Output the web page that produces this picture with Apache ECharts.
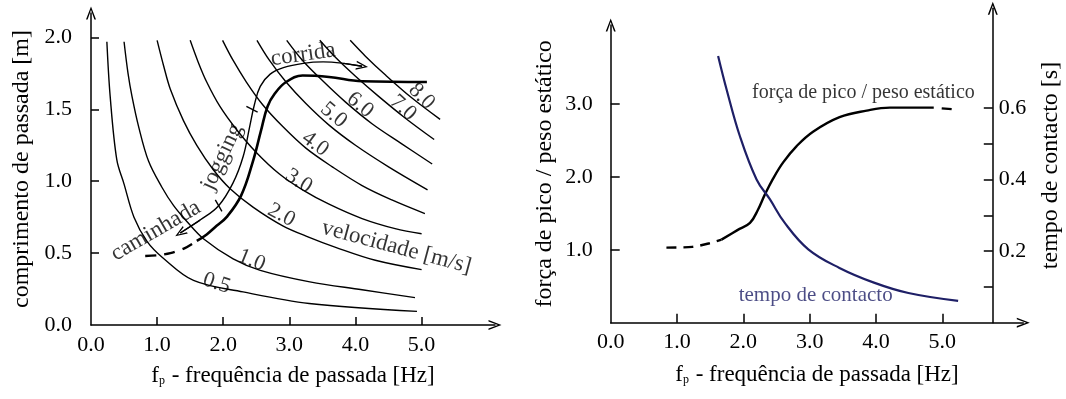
<!DOCTYPE html>
<html>
<head>
<meta charset="utf-8">
<script src="https://cdn.jsdelivr.net/npm/echarts@6/dist/echarts.min.js"></script>
<style>
html,body{margin:0;padding:0;background:#fff;}
#chart{width:1066px;height:399px;}
</style>
</head>
<body>
<div id="chart"></div>
<script>
// ---------------- DATA ----------------
// Left chart: stride length [m] vs step frequency [Hz], constant-velocity curves
const velocityLabels = ['0.5','1.0','2.0','3.0','4.0','5.0','6.0','7.0','8.0'];
const v05 = [[0.24,1.97],[0.29,1.59],[0.39,1.15],[0.5,0.98],[0.65,0.75],[0.85,0.58],[1.08,0.47],[1.55,0.31],[2.3,0.23],[3.3,0.15],[4.93,0.095]];
const v10 = [[0.5,1.97],[0.56,1.75],[0.62,1.59],[0.72,1.38],[0.87,1.14],[1.07,0.96],[1.25,0.83],[1.45,0.72],[1.7,0.6],[2.15,0.46],[2.56,0.38],[3.31,0.3],[4.1,0.245],[4.9,0.19]];
const v20 = [[1.0,1.98],[1.1,1.8],[1.2,1.64],[1.4,1.42],[1.6,1.25],[1.85,1.08],[2.1,0.95],[2.45,0.82],[2.9,0.69],[3.3,0.61],[3.7,0.54],[4.3,0.45],[5.0,0.385]];
const v30 = [[1.5,1.98],[1.62,1.83],[1.75,1.69],[1.95,1.52],[2.2,1.36],[2.5,1.2],[2.85,1.05],[3.2,0.94],[3.6,0.84],[4.1,0.74],[4.6,0.67],[5.0,0.635]];
const v40 = [[1.99,1.98],[2.15,1.84],[2.35,1.69],[2.6,1.53],[2.9,1.38],[3.25,1.23],[3.65,1.1],[4.1,0.97],[4.55,0.87],[5.05,0.775]];
const v50 = [[2.51,1.98],[2.7,1.84],[2.95,1.69],[3.25,1.54],[3.6,1.39],[4.0,1.25],[4.5,1.1],[5.09,0.94]];
const v60 = [[2.96,1.98],[3.2,1.84],[3.5,1.7],[3.85,1.55],[4.25,1.4],[4.7,1.26],[5.16,1.12]];
const v70 = [[3.46,1.98],[3.7,1.86],[4.0,1.73],[4.35,1.59],[4.75,1.44],[5.19,1.29]];
const v80 = [[3.92,1.98],[4.15,1.87],[4.45,1.74],[4.85,1.58],[5.28,1.43]];
const velocityCurves = [v05, v10, v20, v30, v40, v50, v60, v70, v80];
// label anchor [f, L, angle] for each velocity curve
const velocityLabelAnchors = [[1.90,0.29,-18],[2.43,0.45,-22],[2.88,0.765,-28],[3.14,1.0,-32],[3.39,1.26,-36],[3.67,1.46,-40],[4.07,1.53,-40],[4.72,1.51,-42],[5.0,1.59,-45]];

// measured stride length (thick line)
const strideDashed = [[0.82,0.48],[1.0,0.485],[1.2,0.5],[1.42,0.535],[1.6,0.585]];
const strideSolid = [[1.6,0.585],[1.75,0.63],[1.9,0.69],[2.05,0.75],[2.27,0.9],[2.45,1.14],[2.57,1.35],[2.67,1.52],[2.78,1.61],[2.95,1.69],[3.2,1.735],[3.6,1.725],[4.1,1.695],[5.08,1.69]];
// thin arrow path (caminhada - jogging - corrida) and its boundary marks
const gaitPath = [[1.35,0.64],[1.65,0.73],[1.93,0.83],[2.15,0.99],[2.3,1.17],[2.4,1.38],[2.47,1.53],[2.56,1.66],[2.71,1.745],[2.91,1.79],[3.21,1.82],[3.51,1.83],[3.82,1.82],[4.1,1.8]];
const gaitMarks = [[[1.88,0.87],[1.98,0.79]],[[2.35,1.52],[2.52,1.48]]];
const leftTexts = [['corrida',3.21,1.88,8],['jogging',1.98,1.17,65],['caminhada',0.98,0.655,30],['velocidade [m/s]',4.62,0.54,-15]];

// Right chart
const forceDashed = [[0.84,1.03],[1.23,1.04],[1.49,1.09],[1.67,1.14]];
const forceSolid = [[1.67,1.14],[1.91,1.27],[2.1,1.37],[2.22,1.55],[2.32,1.75],[2.45,1.98],[2.6,2.2],[2.8,2.42],[3.05,2.62],[3.45,2.82],[3.86,2.91],[4.21,2.95],[4.87,2.95]];
const forceEnd = [[4.99,2.94],[5.14,2.93]];
const contactTime = [[1.62,0.745],[1.75,0.65],[1.95,0.52],[2.2,0.4],[2.4,0.345],[2.62,0.28],[2.98,0.205],[3.45,0.153],[3.97,0.112],[4.49,0.083],[5.24,0.061]];
const rightTexts = [['força de pico / peso estático',3.81,3.15],['tempo de contacto',3.09,0.38]];

// Ticks / labels
const leftXTicks = [1,2,3,4,5];
const leftXLabels = [0,1,2,3,4,5];
const leftYTicks = [0.5,1.0,1.5,2.0];
const leftYLabels = [0,0.5,1.0,1.5,2.0];
const rightXTicks = [1,2,3,4,5];
const rightXLabels = [0,1,2,3,4,5];
const forceTicks = [1,2,3];
const forceLabels = [1,2,3];
const timeTicks = [0.1,0.2,0.3,0.4,0.5,0.6];
const timeLabels = [0.2,0.4,0.6];

// ---------------- CHART ----------------
const FONT = '"Liberation Serif","Times New Roman",serif';
const NAVY = '#1e1f66';
const ARROW = 'path://M0,13 L5,0 L10,13 L8.4,13 L5,3.6 L1.6,13 Z';
const txt = (size) => ({fontFamily: FONT, fontSize: size, color: '#000'});
const fmt = v => Number(v).toFixed(1);

function axisLineCfg(arrow) {
  return {show: true, onZero: false, lineStyle: {color: '#000', width: 1.5},
          symbol: arrow ? ['none', ARROW] : ['none','none'], symbolSize: [10, 13]};
}
const xName = '{a|f}{s|p}{a| - frequência de passada [Hz]}';
const xNameStyle = {fontFamily: FONT, fontSize: 23, color: '#000',
  rich: {a: {fontFamily: FONT, fontSize: 23, color: '#000'}, s: {fontFamily: FONT, fontSize: 12, color: '#000', padding: [10,1,0,0]}}};

const series = [];
velocityCurves.forEach((c, i) => {
  series.push({type: 'line', xAxisIndex: 0, yAxisIndex: 0, data: c, showSymbol: false, smooth: 0.35,
    lineStyle: {color: '#000', width: 1.4}, silent: true, z: 2});
});
series.push({type: 'line', xAxisIndex: 0, yAxisIndex: 0, data: strideDashed, showSymbol: false, smooth: 0.3,
  lineStyle: {color: '#000', width: 2.4, type: [11, 8]}, z: 3});
series.push({type: 'line', xAxisIndex: 0, yAxisIndex: 0, data: strideSolid, showSymbol: false, smooth: 0.4,
  lineStyle: {color: '#000', width: 2.6}, z: 3});
// gait path with arrowheads at both ends and boundary marks (via markLine)
const nG = gaitPath.length;
const seg = (a, b, withArrow) => [
  {coord: a, symbol: 'none'},
  {coord: b, symbol: withArrow ? ARROW : 'none', symbolSize: [9, 12]}
];
series.push({type: 'line', xAxisIndex: 0, yAxisIndex: 0, data: gaitPath, showSymbol: false, smooth: 0.4,
  lineStyle: {color: '#000', width: 1.4}, z: 3,
  markLine: {silent: true, animation: false, symbol: ['none', 'none'], precision: 3,
    label: {show: false}, emphasis: {disabled: true},
    lineStyle: {color: '#000', width: 1.4, type: 'solid'},
    data: [
      seg(gaitPath[1], gaitPath[0], true),
      seg(gaitPath[nG - 2], gaitPath[nG - 1], true),
      seg(gaitMarks[0][0], gaitMarks[0][1], false),
      seg(gaitMarks[1][0], gaitMarks[1][1], false)
    ]}});
// velocity labels
series.push({type: 'scatter', xAxisIndex: 0, yAxisIndex: 0, symbolSize: 1, itemStyle: {color: 'transparent'}, z: 4,
  data: velocityLabelAnchors.map((a, i) => ({value: [a[0], a[1]], name: velocityLabels[i],
    label: {show: true, position: 'inside', rotate: a[2], formatter: '{b}', ...txt(22)}}))});
series.push({type: 'scatter', xAxisIndex: 0, yAxisIndex: 0, symbolSize: 1, itemStyle: {color: 'transparent'}, z: 4,
  data: leftTexts.map(t => ({value: [t[1], t[2]], name: t[0],
    label: {show: true, position: 'inside', rotate: t[3], formatter: '{b}', ...txt(23)}}))});
// right chart
series.push({type: 'line', xAxisIndex: 1, yAxisIndex: 1, data: forceDashed, showSymbol: false, smooth: 0.3,
  lineStyle: {color: '#000', width: 2.4, type: [10, 7]}});
series.push({type: 'line', xAxisIndex: 1, yAxisIndex: 1, data: forceSolid, showSymbol: false, smooth: 0.4,
  lineStyle: {color: '#000', width: 2.4}});
series.push({type: 'line', xAxisIndex: 1, yAxisIndex: 1, data: forceEnd, showSymbol: false,
  lineStyle: {color: '#000', width: 2.4}});
series.push({type: 'line', xAxisIndex: 2, yAxisIndex: 2, data: contactTime, showSymbol: false, smooth: 0.4,
  lineStyle: {color: NAVY, width: 2.2}});
series.push({type: 'scatter', xAxisIndex: 1, yAxisIndex: 1, symbolSize: 1, itemStyle: {color: 'transparent'}, z: 4,
  data: rightTexts.map((t, i) => ({value: [t[1], t[2]], name: t[0],
    label: {show: true, position: 'inside', formatter: '{b}', ...txt(i === 1 ? 21 : 20), color: i === 1 ? NAVY : '#000'}}))});

const option = {
  animation: false,
  backgroundColor: '#fff',
  grid: [
    {left: 91, top: 13, width: 404, height: 312},
    {left: 610.7, top: 25, width: 412.6, height: 297.7},
    {left: 610.7, top: 8.3, width: 382.1, height: 314.4}
  ],
  xAxis: [
    {gridIndex: 0, type: 'value', min: 0, max: 6.11, axisLine: axisLineCfg(true),
     axisTick: {show: true, inside: true, length: 8, lineStyle: {color: '#000', width: 1.5}, customValues: leftXTicks},
     axisLabel: {customValues: leftXLabels, formatter: fmt, margin: 9, ...txt(22)},
     splitLine: {show: false}, name: xName, nameLocation: 'middle', nameGap: 39, nameTextStyle: xNameStyle},
    {gridIndex: 1, type: 'value', min: 0, max: 6.22, axisLine: axisLineCfg(true),
     axisTick: {show: true, inside: true, length: 9, lineStyle: {color: '#000', width: 1.5}, customValues: rightXTicks},
     axisLabel: {customValues: rightXLabels, formatter: fmt, margin: 9, ...txt(22)},
     splitLine: {show: false}, name: xName, nameLocation: 'middle', nameGap: 41, nameTextStyle: xNameStyle},
    {gridIndex: 2, type: 'value', min: 0, max: 5.763, show: false, splitLine: {show: false}}
  ],
  yAxis: [
    {gridIndex: 0, type: 'value', min: 0, max: 2.17, axisLine: axisLineCfg(true),
     axisTick: {show: true, inside: true, length: 8, lineStyle: {color: '#000', width: 1.5}, customValues: leftYTicks},
     axisLabel: {customValues: leftYLabels, formatter: fmt, margin: 19, ...txt(22)},
     splitLine: {show: false}, name: 'comprimento de passada [m]', nameLocation: 'middle', nameGap: 57,
     nameTextStyle: txt(24)},
    {gridIndex: 1, type: 'value', min: 0, max: 4.084, axisLine: axisLineCfg(true),
     axisTick: {show: true, inside: true, length: 9, lineStyle: {color: '#000', width: 1.5}, customValues: forceTicks},
     axisLabel: {customValues: forceLabels, formatter: fmt, margin: 18, ...txt(22)},
     splitLine: {show: false}, name: 'força de pico / peso estático', nameLocation: 'middle', nameGap: 54,
     nameTextStyle: txt(24)},
    {gridIndex: 2, type: 'value', position: 'right', min: 0, max: 0.878, axisLine: axisLineCfg(true),
     axisTick: {show: true, inside: true, length: 9, lineStyle: {color: '#000', width: 1.5}, customValues: timeTicks},
     axisLabel: {customValues: timeLabels, formatter: fmt, margin: 6, ...txt(22)},
     splitLine: {show: false}, name: 'tempo de contacto [s]', nameLocation: 'middle', nameGap: 46,
     nameTextStyle: txt(24)}
  ],
  series: series
};

const chart = echarts.init(document.getElementById('chart'), null, {renderer: 'canvas'});
chart.setOption(option);
</script>
</body>
</html>
